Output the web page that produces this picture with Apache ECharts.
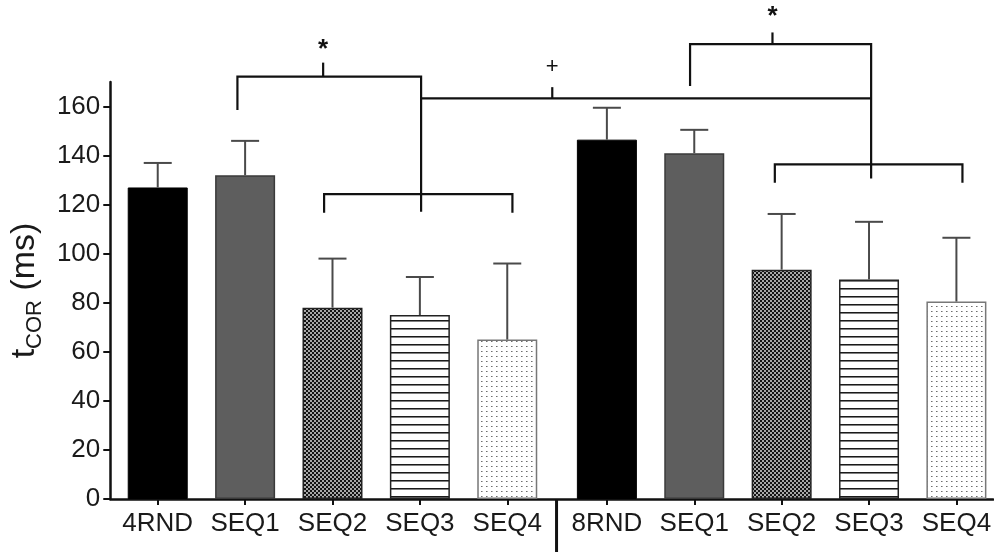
<!DOCTYPE html>
<html>
<head>
<meta charset="utf-8">
<script src="https://cdn.jsdelivr.net/npm/echarts@6/dist/echarts.min.js"></script>
<style>
html,body{margin:0;padding:0;background:#fff;}
#chart{width:994px;height:552px;}
</style>
</head>
<body>
<div id="chart"></div>
<script>
// ---- data ----
const categories = ['4RND','SEQ1','SEQ2','SEQ3','SEQ4','8RND','SEQ1','SEQ2','SEQ3','SEQ4'];
const means = [127, 132, 78, 75, 65, 146.5, 141, 93.5, 89.5, 80.5];
const sds = [10, 14, 20, 15.5, 31, 13, 9.5, 22.7, 23.5, 26];
const yTicks = [0, 20, 40, 60, 80, 100, 120, 140, 160];
// significance brackets (x in category units, y in ms)
const brackets = [
  [[0.912,158.6],[0.912,172.2],[3.014,172.2],[3.014,117.1]],
  [[1.893,172.2],[1.893,177.9]],
  [[1.904,116.7],[1.904,124.3],[4.059,124.3],[4.059,116.7]],
  [[3.014,163.3],[8.164,163.3]],
  [[4.515,163.3],[4.515,167.9]],
  [[6.092,168.4],[6.092,185.4],[8.164,185.4],[8.164,130.7]],
  [[7.035,185.4],[7.035,190.2]],
  [[7.062,128.9],[7.062,136.4],[9.209,136.4],[9.209,128.9]]
];
const sigMarks = [[1.893, 183, '*'], [4.515, 176, '+'], [7.035, 196.5, '*']];
const separator = [[4.564, 0], [4.564, -25]];

// ---- layout ----
const groupGap = 0.14;
const xPos = categories.map((c, i) => i + (i >= 5 ? groupGap : 0));
const FONT = "'Liberation Sans', Arial, sans-serif";

function makePattern(w, h, draw) {
  const c = document.createElement('canvas');
  c.width = w; c.height = h;
  const ctx = c.getContext('2d');
  draw(ctx);
  return { image: c, repeat: 'repeat' };
}
const checker = makePattern(4, 4, ctx => {
  ctx.fillStyle = '#a8a8a8'; ctx.fillRect(0, 0, 4, 4);
  ctx.fillStyle = '#141414'; ctx.fillRect(0, 0, 2, 2); ctx.fillRect(2, 2, 2, 2);
});
const hlines = makePattern(4, 8, ctx => {
  ctx.fillStyle = '#fff'; ctx.fillRect(0, 0, 4, 8);
  ctx.fillStyle = '#1a1a1a'; ctx.fillRect(0, 0, 4, 1);
  ctx.fillStyle = '#808080'; ctx.fillRect(0, 1, 4, 1);
});
const dots = makePattern(5, 5, ctx => {
  ctx.fillStyle = '#fff'; ctx.fillRect(0, 0, 5, 5);
  ctx.fillStyle = '#6e6e6e'; ctx.fillRect(1, 1, 1, 1);
  ctx.fillStyle = '#b0b0b0'; ctx.fillRect(2, 1, 1, 1);
});
const styles = [
  { color: '#000', borderColor: '#000', borderWidth: 1 },
  { color: '#5e5e5e', borderColor: '#3a3a3a', borderWidth: 1.5 },
  { color: checker, borderColor: '#222', borderWidth: 1.5 },
  { color: hlines, borderColor: '#222', borderWidth: 1.5 },
  { color: dots, borderColor: '#777', borderWidth: 1.5 }
];

const chart = echarts.init(document.getElementById('chart'), null, { renderer: 'canvas' });

const barData = means.map((v, i) => ({ value: [xPos[i], v], itemStyle: styles[i % 5] }));
const errData = means.map((v, i) => [xPos[i], v, v + sds[i]]);

chart.setOption({
  animation: false,
  backgroundColor: '#fff',
  grid: { left: 108, right: 0, top: 82, bottom: 53, containLabel: false },
  xAxis: {
    type: 'value', min: -0.543, max: 9.559,
    splitLine: { show: false },
    axisLine: { show: true, onZero: false, lineStyle: { color: '#111', width: 2.5 } },
    axisTick: { show: true, customValues: xPos, length: 6, inside: false, lineStyle: { color: '#111', width: 2 } },
    axisLabel: {
      customValues: xPos, margin: 12, fontSize: 26, color: '#1a1a1a', fontFamily: FONT,
      formatter: v => { const i = xPos.findIndex(p => Math.abs(p - v) < 1e-6); return i >= 0 ? categories[i] : ''; }
    }
  },
  yAxis: {
    type: 'value', min: 0, max: 170, interval: 20,
    splitLine: { show: false },
    axisLine: { show: true, onZero: false, lineStyle: { color: '#111', width: 2.5 } },
    axisTick: { show: true, customValues: yTicks, length: 7, lineStyle: { color: '#111', width: 2 } },
    axisLabel: { customValues: yTicks, margin: 10, fontSize: 26, color: '#1a1a1a', fontFamily: FONT },
    name: '{t|t}{s|COR}{n| (ms)}',
    nameLocation: 'middle',
    nameGap: 60,
    nameRotate: 90,
    nameTextStyle: {
      fontFamily: FONT, color: '#1a1a1a',
      rich: {
        t: { fontSize: 34, fontFamily: FONT, color: '#1a1a1a', lineHeight: 42, verticalAlign: 'middle' },
        s: { fontSize: 22, fontFamily: FONT, color: '#1a1a1a', lineHeight: 42, verticalAlign: 'bottom' },
        n: { fontSize: 34, fontFamily: FONT, color: '#1a1a1a', lineHeight: 42, verticalAlign: 'middle' }
      }
    }
  },
  series: [
    {
      type: 'bar', data: barData, barWidth: 60, z: 2
    },
    {
      type: 'custom', data: errData, z: 3, clip: false,
      renderItem: (params, api) => {
        const base = api.coord([api.value(0), api.value(1)]);
        const top = api.coord([api.value(0), api.value(2)]);
        const half = 14;
        const st = { stroke: '#4a4a4a', lineWidth: 2 };
        return { type: 'group', children: [
          { type: 'line', shape: { x1: base[0], y1: base[1], x2: top[0], y2: top[1] }, style: st },
          { type: 'line', shape: { x1: top[0] - half, y1: top[1], x2: top[0] + half, y2: top[1] }, style: st }
        ] };
      }
    },
    {
      type: 'custom', data: brackets.map((b, i) => [b[0][0], b[0][1], i]), z: 4, clip: false,
      renderItem: (params, api) => {
        const pts = brackets[params.dataIndex].map(p => api.coord(p));
        return { type: 'polyline', shape: { points: pts }, style: { stroke: '#111', lineWidth: 2.2, fill: null } };
      }
    },
    {
      type: 'custom', data: sigMarks.map(m => [m[0], m[1]]), z: 4, clip: false,
      renderItem: (params, api) => {
        const m = sigMarks[params.dataIndex];
        const p = api.coord([m[0], m[1]]);
        return { type: 'text', x: p[0], y: p[1], style: {
          text: m[2], fontSize: m[2] === '*' ? 26 : 22, fontFamily: FONT, fill: '#111',
          fontWeight: m[2] === '*' ? 'bold' : 'normal',
          align: 'center', verticalAlign: 'middle' } };
      }
    },
    {
      type: 'custom', data: [separator[0]], z: 4, clip: false,
      renderItem: (params, api) => {
        const a = api.coord(separator[0]);
        const b = api.coord(separator[1]);
        return { type: 'line', shape: { x1: a[0], y1: a[1], x2: b[0], y2: b[1] }, style: { stroke: '#111', lineWidth: 3 } };
      }
    }
  ]
});
</script>
</body>
</html>
